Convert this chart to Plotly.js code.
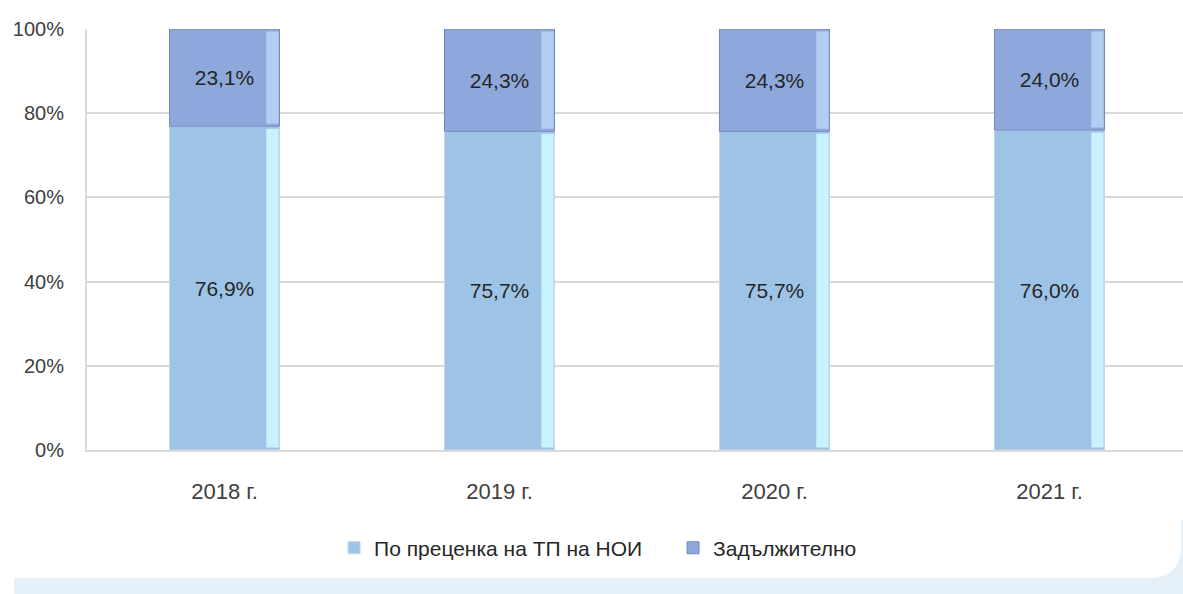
<!DOCTYPE html>
<html>
<head>
<meta charset="utf-8">
<script src="https://cdn.plot.ly/plotly-3.0.1.min.js"></script>
<style>
  html, body { margin:0; padding:0; background:#ffffff; }
  #wrap { position:relative; width:1183px; height:594px; overflow:hidden; }
  #shadow { position:absolute; left:14px; top:520px; width:1200px; height:100px; background:#e6f0f9; border-radius:30px 0 0 30px; }
  #card { position:absolute; left:-30px; top:-30px; width:1211px; height:608px; background:#ffffff; border-radius:28px; }
  #chart { position:absolute; left:0; top:0; width:1183px; height:594px; }
</style>
</head>
<body>
<div id="wrap">
  <div id="shadow"></div>
  <div id="card"></div>
  <div id="chart"></div>
</div>
<script>
const categories = ['2018 г.', '2019 г.', '2020 г.', '2021 г.'];
const seriesNames = ['По преценка на ТП на НОИ', 'Задължително'];
const discretionary = [76.9, 75.7, 75.7, 76.0];
const mandatory = [23.1, 24.3, 24.3, 24.0];
const yTicks = [0, 20, 40, 60, 80, 100];

const fmt = v => v.toFixed(1).replace('.', ',') + '%';
const BAR_W = 0.4;
const STRIP_W = 0.045;
const txtFont = {family:'Liberation Sans, Arial, sans-serif', size:21, color:'#262626'};

const traces = [
  {
    type:'bar', name:seriesNames[0], x:categories, y:discretionary, base:discretionary.map(()=>0),
    width:BAR_W, marker:{color:'#9dc3e6', line:{color:'#c9d6e2', width:1}},
    text:discretionary.map(fmt), textposition:'inside', insidetextanchor:'middle',
    textfont:txtFont, hoverinfo:'skip'
  },
  {
    type:'bar', name:seriesNames[1], x:categories, y:mandatory, base:discretionary,
    width:BAR_W, marker:{color:'#8ea8db', line:{color:'#7188c4', width:1}},
    text:mandatory.map(fmt), textposition:'inside', insidetextanchor:'middle',
    textfont:txtFont, hoverinfo:'skip'
  },
  {
    type:'bar', showlegend:false, x:categories, y:discretionary.map(v=>v-1.2), base:discretionary.map(()=>0.6),
    width:STRIP_W, offset:BAR_W/2-STRIP_W-0.003,
    marker:{color:'#c8f2fd', line:{width:0}}, hoverinfo:'skip'
  },
  {
    type:'bar', showlegend:false, x:categories, y:mandatory.map(v=>v-1.2), base:discretionary.map(v=>v+0.6),
    width:STRIP_W, offset:BAR_W/2-STRIP_W-0.003,
    marker:{color:'#b4cdf2', line:{width:0}}, hoverinfo:'skip'
  }
];

const layout = {
  width:1183, height:594,
  margin:{l:87, r:0, t:29, b:144},
  paper_bgcolor:'rgba(0,0,0,0)', plot_bgcolor:'rgba(0,0,0,0)',
  barmode:'overlay',
  font:{family:'Liberation Sans, Arial, sans-serif', color:'#404040'},
  xaxis:{
    type:'category', range:[-0.5, 3.4855], showgrid:false,
    showline:true, linecolor:'#d9d9d9', linewidth:2,
    ticks:'', ticklabelstandoff:21, tickfont:{size:22, color:'#404040'}, fixedrange:true
  },
  yaxis:{
    range:[0,100], tickvals:yTicks, ticktext:yTicks.map(v=>v+'%'),
    showgrid:true, gridcolor:'#d9d9d9', gridwidth:2,
    showline:true, linecolor:'#d9d9d9', linewidth:2, zeroline:false,
    ticks:'', ticklabelstandoff:17, tickfont:{size:20, color:'#404040'}, fixedrange:true
  },
  showlegend:true,
  legend:{
    orientation:'h', x:0.2254, xanchor:'left', y:-0.233, yanchor:'middle',
    entrywidth:294,
    font:{size:21, color:'#262626'}, bgcolor:'rgba(0,0,0,0)', itemclick:false, itemdoubleclick:false
  }
};

Plotly.newPlot('chart', traces, layout, {displayModeBar:false, staticPlot:true});
</script>
</body>
</html>
